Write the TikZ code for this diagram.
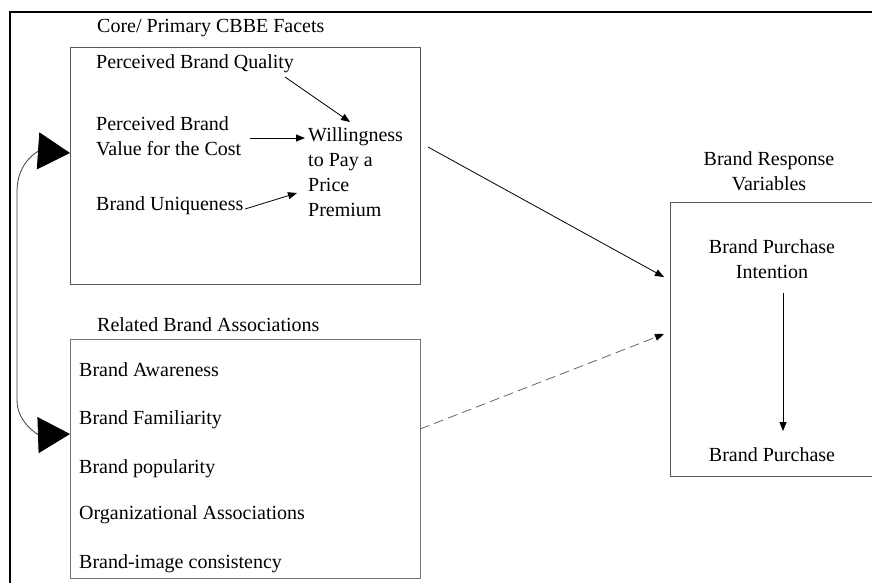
\documentclass[tikz,border=0pt]{standalone}
\usepackage{fontspec}
\setmainfont{Liberation Serif}
\usetikzlibrary{arrows.meta}
\begin{document}
\begin{tikzpicture}[x=1pt,y=-1pt,
  lbl/.style={anchor=base west,inner sep=0pt,font=\fontsize{20}{25}\selectfont},
  clbl/.style={anchor=base,inner sep=0pt,font=\fontsize{20}{25}\selectfont,align=center},
  panel/.style={draw=black!65,line width=0.9pt,anchor=north west,inner sep=0pt},
  smallarrow/.style={line width=0.8pt,-{Triangle[length=9pt,width=7pt]}},
  bigarrows/.style={line width=0.8pt,black!75,
    {Triangle[length=32pt,width=37pt,fill=black,color=black]}-{Triangle[length=32pt,width=36pt,fill=black,color=black]}}]
\clip (0,0) rectangle (872,582);
\fill[white] (0,0) rectangle (872,582);

% outer frame (top and left edges)
\draw[line width=2.6pt] (10,590) -- (10,12) -- (880,12);

% panels
\node[panel,minimum width=350pt,minimum height=237pt] (core) at (70,47) {};
\node[panel,draw=black!55,minimum width=350pt,minimum height=239pt] (rel) at (70,339) {};
\node[panel,minimum width=220pt,minimum height=274pt] (resp) at (670,202) {};

% panel titles (multi-line nodes sit on the baseline of their last line)
\node[lbl] (coretitle) at (97,32) {Core/ Primary CBBE Facets};
\node[lbl] (reltitle) at (97,331) {Related Brand Associations};
\node[clbl] (resptitle) at (769,190) {Brand Response\\Variables};

% core facets
\node[lbl] (quality) at (96,68) {Perceived Brand Quality};
\node[lbl,align=left] (value) at (96,155) {Perceived Brand\\Value for the Cost};
\node[lbl] (unique) at (96,210) {Brand Uniqueness};
\node[lbl,align=left] (wtp) at (308,216) {Willingness\\to Pay a\\Price\\Premium};

% related associations
\node[lbl] (aware) at (79,376) {Brand Awareness};
\node[lbl] (famil) at (79,424) {Brand Familiarity};
\node[lbl] (popul) at (79,473) {Brand popularity};
\node[lbl] (org) at (79,519) {Organizational Associations};
\node[lbl] (consist) at (79,568) {Brand-image consistency};

% brand response
\node[clbl] (intent) at (772,278) {Brand Purchase\\Intention};
\node[clbl] (purchase) at (772,461) {Brand Purchase};

% connector end points
\coordinate (q-out) at (285,77);
\coordinate (wtp-top) at (350,122);
\coordinate (v-out) at (250,138);
\coordinate (wtp-left) at (305,138);
\coordinate (u-out) at (245,209);
\coordinate (wtp-low) at (297,193);
\coordinate (core-out) at (428,147);
\coordinate (resp-hi) at (664,277);
\coordinate (rel-out) at (420,429);
\coordinate (resp-lo) at (664,334);
\coordinate (int-out) at (783,293);
\coordinate (pur-in) at (783,431);
\coordinate (core-in) at (70,153);
\coordinate (rel-in) at (70,434);

% arrows inside the core panel
\draw[smallarrow] (q-out) -- (wtp-top);
\draw[smallarrow] (v-out) -- (wtp-left);
\draw[smallarrow] (u-out) -- (wtp-low);

% links to the response panel
\draw[smallarrow] (core-out) -- (resp-hi);
\draw[smallarrow,black!60,dash pattern=on 10pt off 5pt,-{Triangle[length=9pt,width=7pt,color=black]}] (rel-out) -- (resp-lo);
\draw[smallarrow] (int-out) -- (pur-in);

% two-headed link between the left panels
\draw[bigarrows] (core-in) .. controls (40,151) and (17,160) .. (17,192)
  -- (17,400) .. controls (17,424) and (40,435) .. (rel-in);
\end{tikzpicture}
\end{document}
